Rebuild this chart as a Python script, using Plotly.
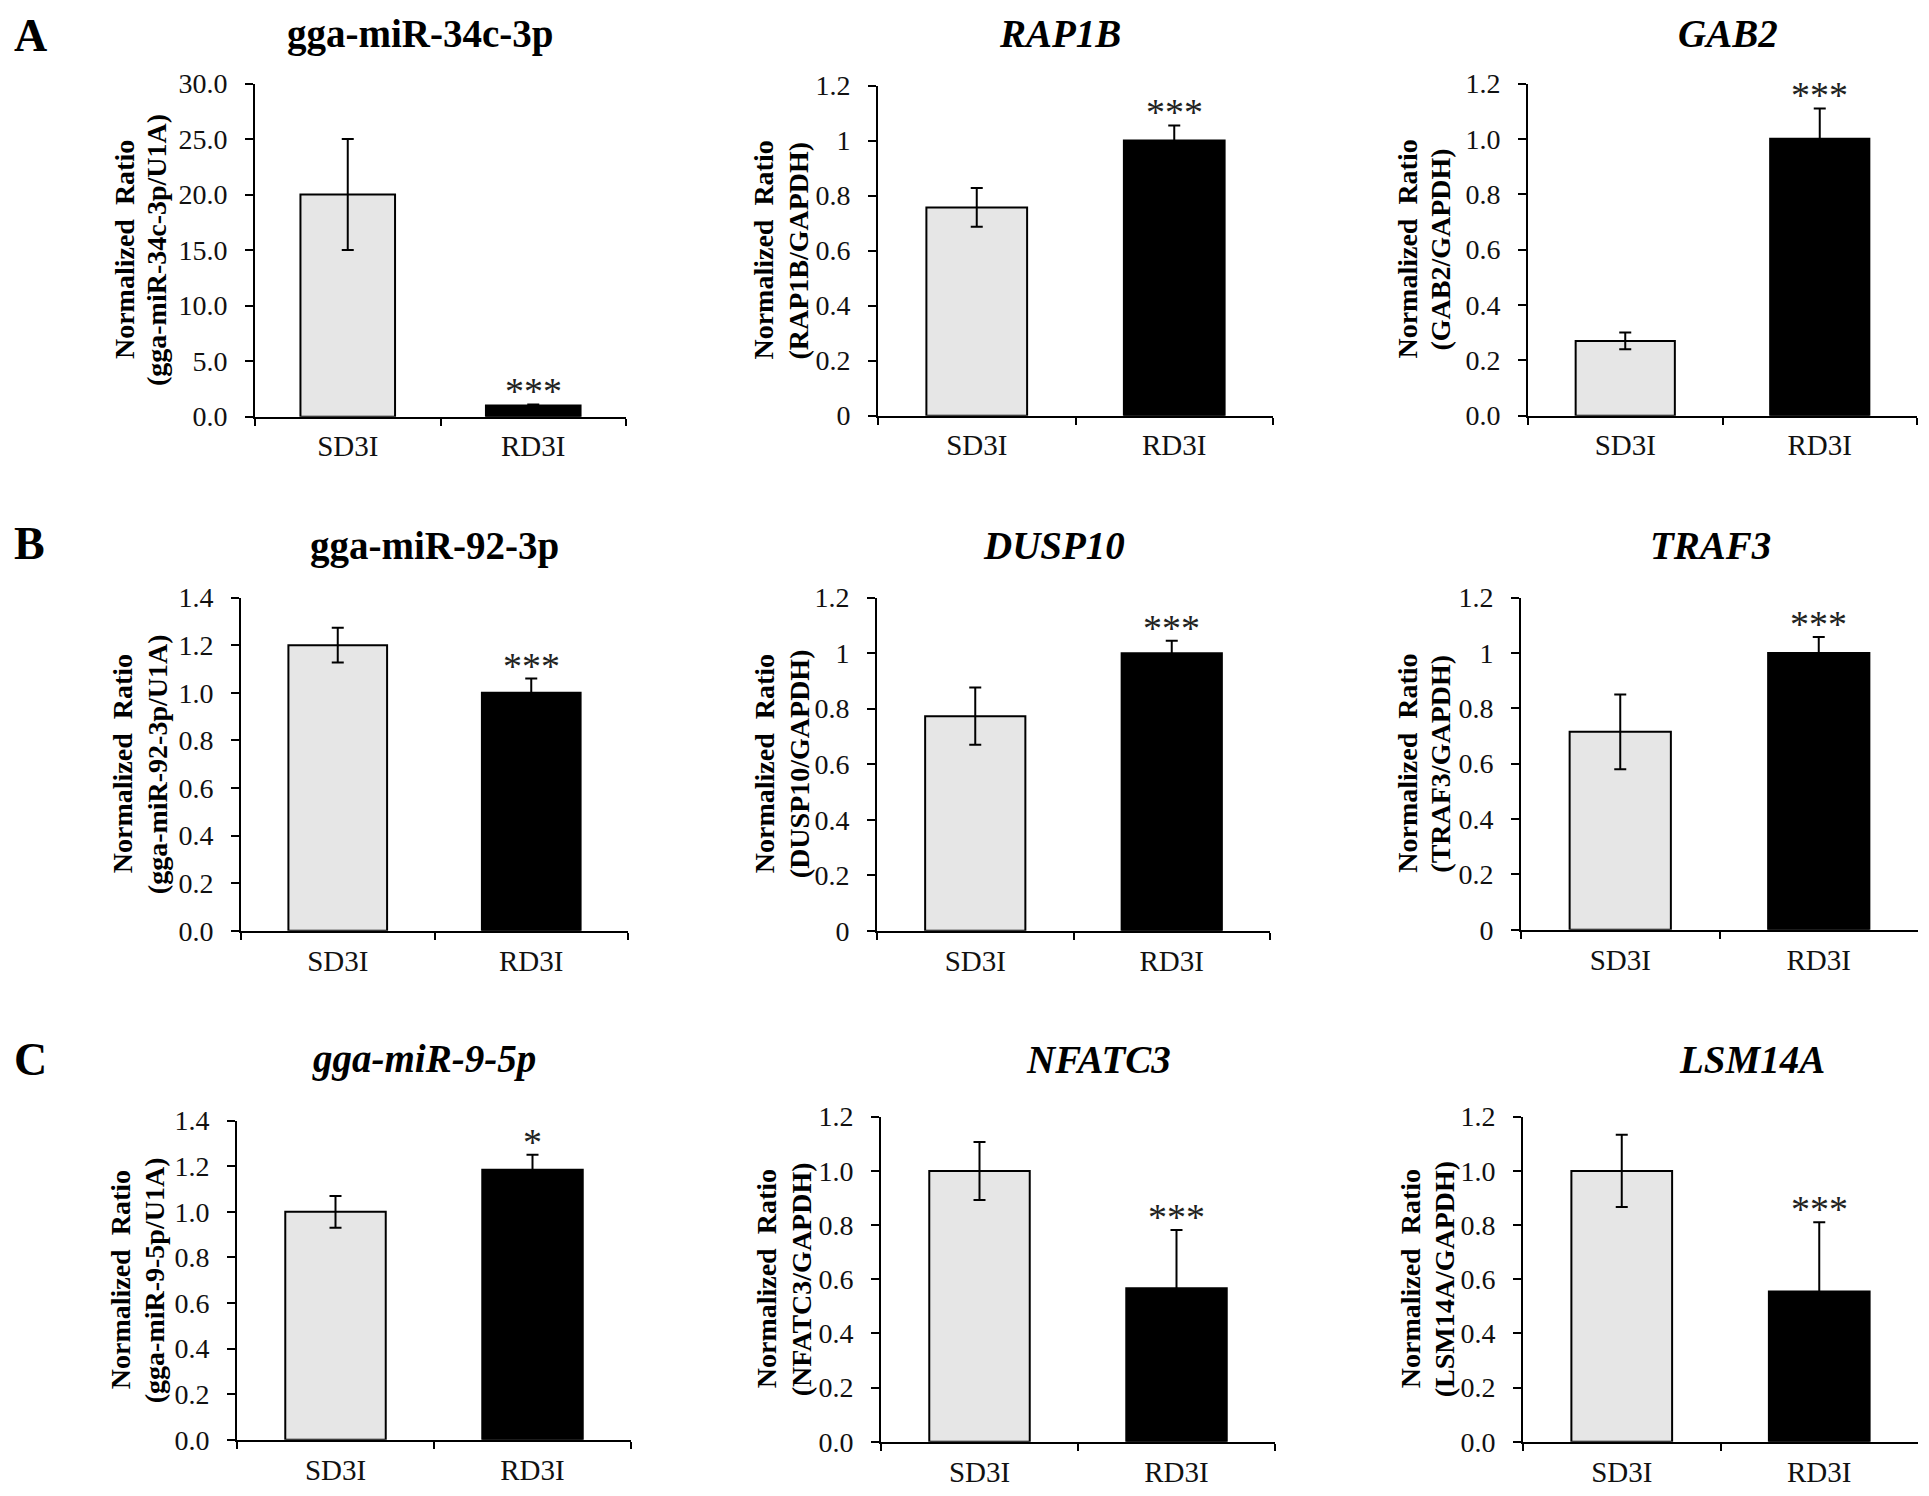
import plotly.graph_objects as go

# ---------------- data ----------------
CATEGORIES = ["SD3I", "RD3I"]
PANEL_LETTERS = ["A", "B", "C"]
PANEL_TITLES = ["gga-miR-34c-3p", "RAP1B", "GAB2",
                "gga-miR-92-3p", "DUSP10", "TRAF3",
                "gga-miR-9-5p", "NFATC3", "LSM14A"]
RATIO_LABELS = ["gga-miR-34c-3p/U1A", "RAP1B/GAPDH", "GAB2/GAPDH",
                "gga-miR-92-3p/U1A", "DUSP10/GAPDH", "TRAF3/GAPDH",
                "gga-miR-9-5p/U1A", "NFATC3/GAPDH", "LSM14A/GAPDH"]
SD3I_MEAN = [20.0, 0.757, 0.27, 1.20, 0.773, 0.715, 1.00, 1.00, 1.00]
SD3I_ERR = [5.0, 0.07, 0.03, 0.073, 0.103, 0.135, 0.07, 0.107, 0.133]
RD3I_MEAN = [1.0, 1.0, 1.0, 1.0, 1.0, 1.0, 1.185, 0.567, 0.555]
RD3I_ERR = [0.1, 0.055, 0.11, 0.06, 0.045, 0.058, 0.065, 0.215, 0.255]
SIGNIFICANCE = ["***", "***", "***", "***", "***", "***", "*", "***", "***"]
YTICK_LABELS = [
    ["0.0", "5.0", "10.0", "15.0", "20.0", "25.0", "30.0"],
    ["0", "0.2", "0.4", "0.6", "0.8", "1", "1.2"],
    ["0.0", "0.2", "0.4", "0.6", "0.8", "1.0", "1.2"],
    ["0.0", "0.2", "0.4", "0.6", "0.8", "1.0", "1.2", "1.4"],
    ["0", "0.2", "0.4", "0.6", "0.8", "1", "1.2"],
    ["0", "0.2", "0.4", "0.6", "0.8", "1", "1.2"],
    ["0.0", "0.2", "0.4", "0.6", "0.8", "1.0", "1.2", "1.4"],
    ["0.0", "0.2", "0.4", "0.6", "0.8", "1.0", "1.2"],
    ["0.0", "0.2", "0.4", "0.6", "0.8", "1.0", "1.2"],
]

# ---------------- layout geometry (screen pixels) ----------------
PAGE_W, PAGE_H = 1929, 1496
OFF = 8                      # default body margin of the html page
W, H = PAGE_W - 2 * OFF, PAGE_H - 2 * OFF
FONT = "Liberation Serif, Times New Roman, serif"
BOX = [(255, 626, 83, 418), (878, 1273, 85, 417), (1528, 1917, 83, 417),
       (241, 628, 600, 935), (877, 1270, 600, 935), (1521, 1918, 600, 934),
       (237, 631, 1126, 1447), (881, 1275, 1122, 1449), (1523, 1918, 1122, 1449)]
TITLE_POS = [(420, 33), (1060, 33), (1728, 33),
             (434, 548), (1054, 548), (1710, 548),
             (424, 1064), (1098, 1064), (1752, 1064)]
TITLE_ITALIC = [False, True, True, False, True, True, True, True, True]
YLAB_X = [(124, 156), (764, 799), (1408, 1441),
          (122, 157), (764, 799), (1408, 1441),
          (120, 154), (766, 801), (1410, 1444)]
LETTER_POS = [(12, 35), (12, 546), (12, 1064)]

# vertical calibration of the rendered page
VSCALE, VSHIFT = 0.9805, 14.3


def px(x):
    return (x - OFF) / W


def py(y):
    yd = (y - VSHIFT) / VSCALE
    return 1 - (yd - OFF) / H


fig = go.Figure()
annotations = []
layout_axes = {}

for i in range(9):
    n = "" if i == 0 else str(i + 1)
    xa, ya = "x" + n, "y" + n
    x0, x1, y0, y1 = BOX[i]
    ticks = [float(t) for t in YTICK_LABELS[i]]
    ymax = ticks[-1]

    fig.add_trace(go.Bar(
        x=CATEGORIES, y=[SD3I_MEAN[i], RD3I_MEAN[i]],
        xaxis=xa, yaxis=ya, width=0.51,
        marker=dict(color=["#e6e6e6", "#000000"],
                    line=dict(color="#000000", width=2)),
        error_y=dict(type="data", array=[SD3I_ERR[i], RD3I_ERR[i]],
                     color="#000000", thickness=2, width=6, visible=True),
        showlegend=False, hoverinfo="skip",
    ))

    layout_axes["xaxis" + n] = dict(
        domain=[px(x0), px(x1)], anchor=ya, type="category",
        range=[-0.5, 1.5], showline=True, linecolor="#000000", linewidth=2,
        ticks="outside", tickson="boundaries", ticklen=7, tickwidth=2,
        tickcolor="#000000", showgrid=False, zeroline=False,
        tickfont=dict(family=FONT, size=29, color="#111111"),
        ticklabelstandoff=3, fixedrange=True,
    )
    layout_axes["yaxis" + n] = dict(
        domain=[py(y1), py(y0)], anchor=xa, range=[0, ymax],
        tickvals=ticks, ticktext=YTICK_LABELS[i],
        showline=True, linecolor="#000000", linewidth=2,
        ticks="outside", ticklen=8, tickwidth=2, tickcolor="#000000",
        showgrid=False, zeroline=False,
        tickfont=dict(family=FONT, size=28, color="#111111"),
        ticklabelstandoff=12, fixedrange=True,
    )

    # panel title
    t = PANEL_TITLES[i]
    txt = "<b><i>%s</i></b>" % t if TITLE_ITALIC[i] else "<b>%s</b>" % t
    tx, ty = TITLE_POS[i]
    annotations.append(dict(
        text=txt, x=px(tx), y=py(ty), xref="paper", yref="paper",
        xanchor="center", yanchor="middle", showarrow=False,
        font=dict(family=FONT, size=39, color="#000000")))

    # y-axis labels (two rotated lines)
    cy = py((y0 + y1) / 2)
    lx1, lx2 = YLAB_X[i]
    annotations.append(dict(
        text="<b>Normalized  Ratio</b>", x=px(lx1), y=cy, xref="paper",
        yref="paper", xanchor="center", yanchor="middle", textangle=-90,
        showarrow=False, font=dict(family=FONT, size=28, color="#000000")))
    annotations.append(dict(
        text="<b>(%s)</b>" % RATIO_LABELS[i], x=px(lx2), y=cy, xref="paper",
        yref="paper", xanchor="center", yanchor="middle", textangle=-90,
        showarrow=False, font=dict(family=FONT, size=28, color="#000000")))

    # significance stars
    annotations.append(dict(
        text=SIGNIFICANCE[i], x=CATEGORIES[1], y=RD3I_MEAN[i] + RD3I_ERR[i],
        xref=xa, yref=ya, xanchor="center", yanchor="bottom", yshift=-10,
        showarrow=False, font=dict(family=FONT, size=38, color="#222222")))

for k, letter in enumerate(PANEL_LETTERS):
    lx, ly = LETTER_POS[k]
    annotations.append(dict(
        text="<b>%s</b>" % letter, x=px(lx), y=py(ly), xref="paper",
        yref="paper", xanchor="left", yanchor="middle", showarrow=False,
        font=dict(family=FONT, size=46, color="#000000")))

fig.update_layout(
    width=W, height=H, margin=dict(l=0, r=0, t=0, b=0),
    paper_bgcolor="#ffffff", plot_bgcolor="#ffffff",
    annotations=annotations, bargap=0.49, **layout_axes,
)

fig.write_html("out.html", config={"displayModeBar": False})
